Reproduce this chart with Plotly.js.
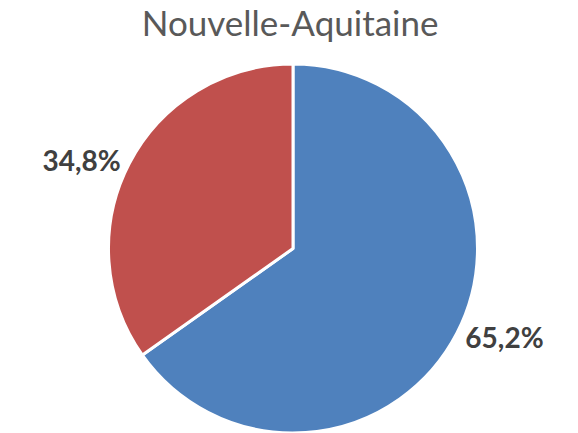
<!DOCTYPE html>
<html>
<head>
<meta charset="utf-8">
<script src="https://cdn.plot.ly/plotly-3.0.1.min.js"></script>
<style>html,body{margin:0;padding:0;background:#fff;}#chart{width:578px;height:433px;}</style>
</head>
<body>
<div id="chart"></div>
<script>
const categories = ["A", "B"];
const values = [65.2, 34.8];
const labelsText = ["65,2%", "34,8%"];
const colors = ["#4F81BD", "#C0504D"];

const trace = {
  type: "pie",
  labels: categories,
  values: values,
  text: labelsText,
  textinfo: "text",
  texttemplate: "%{text}",
  textposition: "outside",
  sort: false,
  direction: "clockwise",
  rotation: 0,
  marker: {colors: colors, line: {color: "#ffffff", width: 3}},
  outsidetextfont: {family: "Lato, 'Open Sans', sans-serif", size: 28, color: "#404040", weight: "bold"},
  hoverinfo: "none",
  showlegend: false
};

const layout = {
  width: 578, height: 433,
  margin: {l: 8, r: 0, t: 64, b: 0},
  paper_bgcolor: "#ffffff",
  title: {text: "Nouvelle-Aquitaine", x: 0.502, xanchor: "center", y: 0.945, yanchor: "middle",
    font: {family: "Lato, 'Open Sans', sans-serif", size: 35, color: "#595959"}},
  showlegend: false
};

Plotly.newPlot("chart", [trace], layout, {displayModeBar: false, staticPlot: true});
</script>
</body>
</html>
